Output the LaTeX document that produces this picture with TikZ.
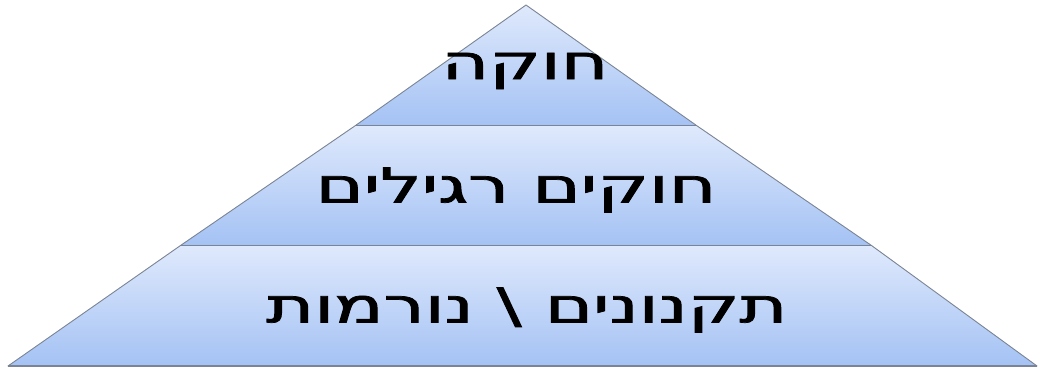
\documentclass[tikz,border=0pt]{standalone}
\usepackage{graphicx}
\usepackage{fontspec}
\newfontfamily\hebfont[Script=Hebrew,FakeBold=1.5]{DejaVu Sans}
\TeXXeTstate=1
\newcommand{\stretchtxt}[1]{\scalebox{1.52}[1]{#1}}
\begin{document}
\begin{tikzpicture}[x=1pt,y=-1pt,
  layer/.style={top color=layertop,bottom color=layerbot,draw=edgegray,line width=0.9pt,line join=round},
  lbl/.style={font=\hebfont\fontsize{48}{54}\selectfont,text=black,inner sep=0pt}]
\definecolor{layertop}{HTML}{DFE9FC}
\definecolor{layerbot}{HTML}{A4C2F4}
\definecolor{edgegray}{HTML}{7A8494}
\useasboundingbox (0,0) rectangle (1040,369);
% layers
\path[layer] (526,5) -- (696.5,125.5) -- (355.5,125.5) -- cycle;
\path[layer] (355.5,125.5) -- (696.5,125.5) -- (871.5,245.5) -- (180.5,245.5) -- cycle;
\path[layer] (180.5,245.5) -- (871.5,245.5) -- (1037,366) -- (8,366) -- cycle;
\draw[edgegray,line width=1.8pt] (8,366) -- (1037,366);
% labels
\node[lbl] (t1) at (525,71) {\stretchtxt{\beginR חוקה\endR}};
\node[lbl] (t2) at (516,190) {\stretchtxt{\beginR חוקים רגילים\endR}};
\node[lbl] (t3) at (527,310) {\stretchtxt{\beginR תקנונים \textbackslash{} נורמות\endR}};
\end{tikzpicture}
\end{document}
